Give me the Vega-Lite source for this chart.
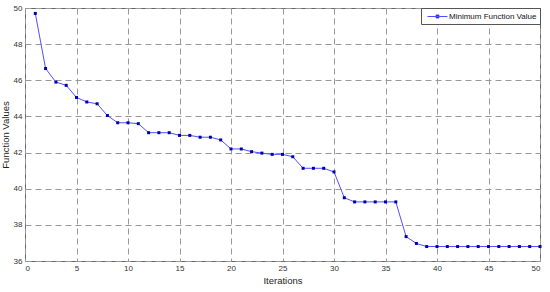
{
  "$schema": "https://vega.github.io/schema/vega-lite/v6.json",
  "autosize": "none",
  "width": 515,
  "height": 253,
  "padding": {"left": 25, "top": 8, "right": 10, "bottom": 31},
  "background": "white",
  "config": {
    "view": {"stroke": "#666", "strokeWidth": 1},
    "font": "Liberation Sans"
  },
  "data": {"values": [
    {"it": 1, "v": 49.7, "s": "Minimum Function Value"},
    {"it": 2, "v": 46.65, "s": "Minimum Function Value"},
    {"it": 3, "v": 45.9, "s": "Minimum Function Value"},
    {"it": 4, "v": 45.72, "s": "Minimum Function Value"},
    {"it": 5, "v": 45.05, "s": "Minimum Function Value"},
    {"it": 6, "v": 44.8, "s": "Minimum Function Value"},
    {"it": 7, "v": 44.7, "s": "Minimum Function Value"},
    {"it": 8, "v": 44.05, "s": "Minimum Function Value"},
    {"it": 9, "v": 43.65, "s": "Minimum Function Value"},
    {"it": 10, "v": 43.65, "s": "Minimum Function Value"},
    {"it": 11, "v": 43.6, "s": "Minimum Function Value"},
    {"it": 12, "v": 43.1, "s": "Minimum Function Value"},
    {"it": 13, "v": 43.1, "s": "Minimum Function Value"},
    {"it": 14, "v": 43.1, "s": "Minimum Function Value"},
    {"it": 15, "v": 42.95, "s": "Minimum Function Value"},
    {"it": 16, "v": 42.95, "s": "Minimum Function Value"},
    {"it": 17, "v": 42.85, "s": "Minimum Function Value"},
    {"it": 18, "v": 42.85, "s": "Minimum Function Value"},
    {"it": 19, "v": 42.7, "s": "Minimum Function Value"},
    {"it": 20, "v": 42.2, "s": "Minimum Function Value"},
    {"it": 21, "v": 42.2, "s": "Minimum Function Value"},
    {"it": 22, "v": 42.05, "s": "Minimum Function Value"},
    {"it": 23, "v": 41.97, "s": "Minimum Function Value"},
    {"it": 24, "v": 41.9, "s": "Minimum Function Value"},
    {"it": 25, "v": 41.9, "s": "Minimum Function Value"},
    {"it": 26, "v": 41.77, "s": "Minimum Function Value"},
    {"it": 27, "v": 41.13, "s": "Minimum Function Value"},
    {"it": 28, "v": 41.13, "s": "Minimum Function Value"},
    {"it": 29, "v": 41.13, "s": "Minimum Function Value"},
    {"it": 30, "v": 40.93, "s": "Minimum Function Value"},
    {"it": 31, "v": 39.5, "s": "Minimum Function Value"},
    {"it": 32, "v": 39.27, "s": "Minimum Function Value"},
    {"it": 33, "v": 39.27, "s": "Minimum Function Value"},
    {"it": 34, "v": 39.27, "s": "Minimum Function Value"},
    {"it": 35, "v": 39.27, "s": "Minimum Function Value"},
    {"it": 36, "v": 39.27, "s": "Minimum Function Value"},
    {"it": 37, "v": 37.35, "s": "Minimum Function Value"},
    {"it": 38, "v": 36.97, "s": "Minimum Function Value"},
    {"it": 39, "v": 36.8, "s": "Minimum Function Value"},
    {"it": 40, "v": 36.8, "s": "Minimum Function Value"},
    {"it": 41, "v": 36.8, "s": "Minimum Function Value"},
    {"it": 42, "v": 36.8, "s": "Minimum Function Value"},
    {"it": 43, "v": 36.8, "s": "Minimum Function Value"},
    {"it": 44, "v": 36.8, "s": "Minimum Function Value"},
    {"it": 45, "v": 36.8, "s": "Minimum Function Value"},
    {"it": 46, "v": 36.8, "s": "Minimum Function Value"},
    {"it": 47, "v": 36.8, "s": "Minimum Function Value"},
    {"it": 48, "v": 36.8, "s": "Minimum Function Value"},
    {"it": 49, "v": 36.8, "s": "Minimum Function Value"},
    {"it": 50, "v": 36.8, "s": "Minimum Function Value"}
  ]},
  "encoding": {
    "x": {"field": "it", "type": "quantitative",
      "scale": {"domain": [0, 50], "nice": false},
      "axis": {"title": "Iterations", "values": [0,5,10,15,20,25,30,35,40,45,50],
        "grid": true, "gridDash": [6,4], "gridColor": "#999", "gridOpacity": 1,
        "domain": false, "ticks": false, "labelFontSize": 8, "labelColor": "#333",
        "labelPadding": 3, "titleFontSize": 9.5, "titleFontWeight": "normal", "titleColor": "#222", "titlePadding": 3}},
    "y": {"field": "v", "type": "quantitative",
      "scale": {"domain": [36, 50], "nice": false, "zero": false},
      "axis": {"title": "Function Values", "values": [36,38,40,42,44,46,48,50],
        "grid": true, "gridDash": [6,4], "gridColor": "#999", "gridOpacity": 1,
        "domain": false, "ticks": false, "labelFontSize": 8, "labelColor": "#333",
        "labelPadding": 3, "titleFontSize": 9.5, "titleFontWeight": "normal", "titleColor": "#222", "titlePadding": 3}}
  },
  "layer": [
    {
      "mark": {"type": "line", "strokeWidth": 1},
      "encoding": {
        "color": {"field": "s", "type": "nominal",
          "scale": {"range": ["#5050ff"]},
          "legend": {"title": null, "orient": "top-right", "offset": 0,
            "strokeColor": "#555", "fillColor": "white", "padding": 3,
            "symbolType": "M-2,0H2M-0.3,-0.3H0.3V0.3H-0.3Z", "symbolSize": 100,
            "symbolStrokeWidth": 1, "symbolFillColor": "#0000b0", "symbolStrokeColor": "#3333ff",
            "symbolOffset": 8, "labelOffset": 6, "labelFontSize": 8, "labelColor": "#111"}}
      }
    },
    {
      "mark": {"type": "square", "size": 9, "filled": true, "color": "#0000b0", "opacity": 1}
    }
  ]
}
